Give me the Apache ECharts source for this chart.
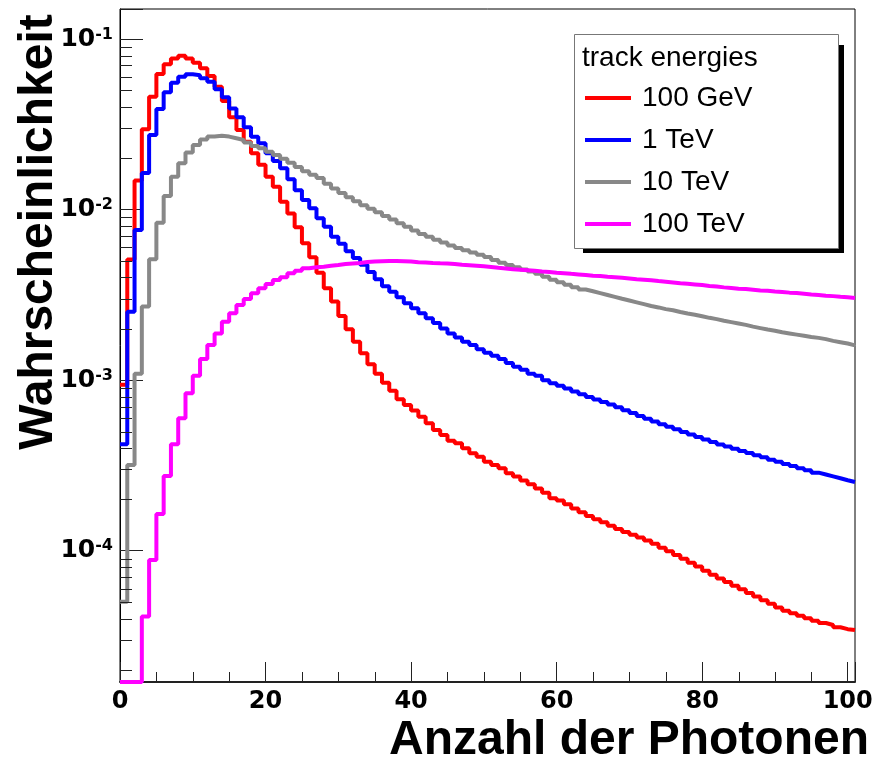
<!DOCTYPE html>
<html><head><meta charset="utf-8">
<script src="https://cdn.jsdelivr.net/npm/echarts@6/dist/echarts.min.js"></script>
<style>html,body{margin:0;padding:0;background:#fff}#c{width:886px;height:761px}</style>
</head><body><div id="c"></div>
<script>
// bin lower edges (Anzahl der Photonen)
const binEdges = [0,1,2,3,4,5,6,7,8,9,10,11,12,13,14,15,16,17,18,19,20,21,22,23,24,25,26,27,28,29,30,31,32,33,34,35,36,37,38,39,40,41,42,43,44,45,46,47,48,49,50,51,52,53,54,55,56,57,58,59,60,61,62,63,64,65,66,67,68,69,70,71,72,73,74,75,76,77,78,79,80,81,82,83,84,85,86,87,88,89,90,91,92,93,94,95,96,97,98,99,100];
const xUpper = 101;
const seriesNames = ['100 GeV', '1 TeV', '10 TeV', '100 TeV'];
const e100GeV = [9.4e-4,5.1e-3,0.0148,0.0296,0.0459,0.0624,0.0712,0.0770,0.0798,0.0770,
 0.0726,0.0673,0.0607,0.0525,0.0433,0.0348,0.0293,0.0250,0.0214,0.0183,
 0.0156,0.0136,0.0111,9.5e-3,7.87e-3,6.35e-3,5.25e-3,4.27e-3,3.46e-3,2.89e-3,
 2.38e-3,1.99e-3,1.68e-3,1.44e-3,1.24e-3,1.09e-3,9.67e-4,8.68e-4,7.73e-4,7.15e-4,
 6.63e-4,6.11e-4,5.59e-4,5.10e-4,4.77e-4,4.42e-4,4.27e-4,3.99e-4,3.73e-4,3.56e-4,
 3.33e-4,3.18e-4,3.05e-4,2.85e-4,2.72e-4,2.58e-4,2.45e-4,2.32e-4,2.19e-4,2.03e-4,
 1.97e-4,1.87e-4,1.77e-4,1.68e-4,1.60e-4,1.53e-4,1.47e-4,1.40e-4,1.34e-4,1.29e-4,
 1.24e-4,1.195e-4,1.15e-4,1.10e-4,1.04e-4,9.93e-5,9.45e-5,8.99e-5,8.51e-5,8.07e-5,
 7.64e-5,7.24e-5,6.88e-5,6.55e-5,6.24e-5,5.95e-5,5.66e-5,5.39e-5,5.13e-5,4.89e-5,
 4.65e-5,4.45e-5,4.30e-5,4.16e-5,4.02e-5,3.88e-5,3.77e-5,3.67e-5,3.56e-5,3.47e-5,
 3.43e-5];
const e1TeV = [4.21e-4,2.52e-3,7.59e-3,0.0164,0.0274,0.0389,0.0487,0.0555,0.0602,0.0621,
 0.0613,0.0588,0.0562,0.0507,0.0455,0.0392,0.0348,0.0304,0.0267,0.0245,
 0.0214,0.0193,0.0175,0.01505,0.0130,0.0114,0.0102,8.89e-3,7.94e-3,6.94e-3,
 6.30e-3,5.70e-3,5.20e-3,4.75e-3,4.30e-3,3.90e-3,3.55e-3,3.30e-3,3.06e-3,2.82e-3,
 2.64e-3,2.47e-3,2.31e-3,2.16e-3,2.01e-3,1.88e-3,1.78e-3,1.68e-3,1.61e-3,1.52e-3,
 1.45e-3,1.39e-3,1.33e-3,1.26e-3,1.20e-3,1.15e-3,1.09e-3,1.06e-3,1.00e-3,9.59e-4,
 9.29e-4,8.93e-4,8.58e-4,8.26e-4,7.97e-4,7.70e-4,7.44e-4,7.19e-4,6.94e-4,6.67e-4,
 6.42e-4,6.17e-4,5.94e-4,5.72e-4,5.52e-4,5.33e-4,5.15e-4,4.97e-4,4.80e-4,4.65e-4,
 4.49e-4,4.34e-4,4.20e-4,4.08e-4,3.96e-4,3.85e-4,3.74e-4,3.63e-4,3.53e-4,3.42e-4,
 3.32e-4,3.23e-4,3.14e-4,3.05e-4,2.96e-4,2.87e-4,2.80e-4,2.73e-4,2.66e-4,2.59e-4,
 2.53e-4];
const e10TeV = [5.03e-5,3.18e-4,1.09e-3,2.70e-3,5.11e-3,8.38e-3,0.0120,0.0156,0.0187,0.0216,
 0.0239,0.0258,0.0268,0.0271,0.0268,0.0262,0.0256,0.0247,0.0236,0.0229,
 0.0218,0.0209,0.0199,0.0188,0.0178,0.0168,0.0160,0.0153,0.0142,0.0133,
 0.0125,0.0118,0.0112,0.0106,0.0101,9.64e-3,9.17e-3,8.74e-3,8.32e-3,7.93e-3,
 7.55e-3,7.20e-3,6.93e-3,6.66e-3,6.41e-3,6.16e-3,5.95e-3,5.77e-3,5.60e-3,5.44e-3,
 5.27e-3,5.07e-3,4.88e-3,4.74e-3,4.60e-3,4.46e-3,4.33e-3,4.20e-3,4.04e-3,3.88e-3,
 3.75e-3,3.63e-3,3.51e-3,3.40e-3,3.32e-3,3.24e-3,3.16e-3,3.08e-3,3.00e-3,2.93e-3,
 2.86e-3,2.79e-3,2.72e-3,2.67e-3,2.61e-3,2.57e-3,2.51e-3,2.46e-3,2.42e-3,2.37e-3,
 2.32e-3,2.28e-3,2.23e-3,2.19e-3,2.15e-3,2.11e-3,2.06e-3,2.02e-3,1.98e-3,1.95e-3,
 1.91e-3,1.88e-3,1.85e-3,1.82e-3,1.79e-3,1.77e-3,1.74e-3,1.70e-3,1.67e-3,1.64e-3,
 1.60e-3];
const e100TeV = [1.7e-5,1.7e-5,1.7e-5,4.11e-5,8.83e-5,1.64e-4,2.74e-4,4.21e-4,5.98e-4,8.38e-4,
 1.06e-3,1.33e-3,1.61e-3,1.88e-3,2.20e-3,2.47e-3,2.76e-3,2.99e-3,3.23e-3,3.46e-3,
 3.66e-3,3.87e-3,4.01e-3,4.23e-3,4.38e-3,4.53e-3,4.59e-3,4.63e-3,4.69e-3,4.74e-3,
 4.80e-3,4.83e-3,4.86e-3,4.93e-3,4.96e-3,4.98e-3,4.99e-3,4.99e-3,4.98e-3,4.96e-3,
 4.92e-3,4.89e-3,4.86e-3,4.84e-3,4.83e-3,4.80e-3,4.75e-3,4.72e-3,4.69e-3,4.65e-3,
 4.61e-3,4.56e-3,4.52e-3,4.47e-3,4.44e-3,4.41e-3,4.38e-3,4.34e-3,4.31e-3,4.27e-3,
 4.24e-3,4.20e-3,4.17e-3,4.14e-3,4.10e-3,4.08e-3,4.04e-3,4.01e-3,3.98e-3,3.95e-3,
 3.91e-3,3.88e-3,3.85e-3,3.81e-3,3.78e-3,3.74e-3,3.70e-3,3.67e-3,3.64e-3,3.61e-3,
 3.57e-3,3.54e-3,3.50e-3,3.47e-3,3.44e-3,3.42e-3,3.39e-3,3.36e-3,3.34e-3,3.31e-3,
 3.29e-3,3.26e-3,3.24e-3,3.21e-3,3.18e-3,3.16e-3,3.13e-3,3.11e-3,3.08e-3,3.06e-3,
 3.03e-3];
const xTickLabels = [0, 20, 40, 60, 80, 100];
const xMinorTicks = [5,10,15,25,30,35,45,50,55,65,70,75,85,90,95];
const yMinorTicks = [2e-5,3e-5,4e-5,5e-5,6e-5,7e-5,8e-5,9e-5,
 2e-4,3e-4,4e-4,5e-4,6e-4,7e-4,8e-4,9e-4,
 2e-3,3e-3,4e-3,5e-3,6e-3,7e-3,8e-3,9e-3,
 2e-2,3e-2,4e-2,5e-2,6e-2,7e-2,8e-2,9e-2];
const yMin = 1.7e-5, yMax = 0.15;
const colors = ['#ff0000', '#0000ff', '#888888', '#ff00ff'];
const allVals = [e100GeV, e1TeV, e10TeV, e100TeV];

const chart = echarts.init(document.getElementById('c'), null, {renderer: 'canvas'});

function histData(vals) {
  const d = binEdges.map((b, i) => [b, vals[i]]);
  d.push([xUpper, vals[vals.length - 1]]);
  return d;
}

const lineSeries = seriesNames.map((n, k) => ({
  name: n, type: 'line', step: 'end', data: histData(allVals[k]),
  showSymbol: false, symbol: 'none', color: colors[k],
  lineStyle: {color: colors[k], width: 4}, animation: false, clip: true, z: 2 + k * 0.01
}));

const option = {
  animation: false,
  backgroundColor: '#fff',
  grid: {left: 120, top: 9, width: 735, height: 673, show: true, borderColor: '#000', borderWidth: 1, backgroundColor: 'transparent'},
  xAxis: {
    type: 'value', min: 0, max: xUpper, interval: 20,
    splitLine: {show: false},
    axisLine: {show: true, lineStyle: {color: '#222', width: 2}},
    axisTick: {show: true, inside: true, length: 20, lineStyle: {color: '#222', width: 1}},
    axisLabel: {
      margin: 8, color: '#000', fontFamily: 'DejaVu Sans', fontWeight: 'bold', fontSize: 24,
      formatter: v => (xTickLabels.indexOf(v) >= 0 ? String(v) : '')
    }
  },
  yAxis: {
    type: 'log', logBase: 10, min: yMin, max: yMax,
    splitLine: {show: false},
    axisLine: {show: true, lineStyle: {color: '#000', width: 1}},
    axisTick: {show: true, inside: true, length: 23, lineStyle: {color: '#222', width: 1}},
    axisLabel: {
      margin: 7, color: '#000',
      formatter: v => {
        const l = Math.log10(v), e = Math.round(l);
        if (Math.abs(l - e) > 1e-3) return '';
        return '{b|10}{s|' + e + '}';
      },
      rich: {
        b: {fontFamily: 'DejaVu Sans', fontWeight: 'bold', fontSize: 25, color: '#000'},
        s: {fontFamily: 'DejaVu Sans', fontWeight: 'bold', fontSize: 16, color: '#000', verticalAlign: 'top'}
      }
    }
  },
  legend: {
    orient: 'vertical', left: 585, top: 83, padding: 0, itemGap: 12,
    itemWidth: 46, itemHeight: 4, icon: 'rect', selectedMode: false, z: 6,
    textStyle: {fontFamily: 'Liberation Sans', fontSize: 28, color: '#000', lineHeight: 30, padding: [0, 0, 0, 6]},
    data: seriesNames
  },
  graphic: [
    {type: 'rect', z: 4, shape: {x: 583, y: 45, width: 261, height: 208}, style: {fill: '#000'}},
    {type: 'rect', z: 5, shape: {x: 574.5, y: 34.5, width: 264, height: 214}, style: {fill: '#fff', stroke: '#777', lineWidth: 1}},
    {type: 'text', z: 6, x: 582, y: 58, style: {text: 'track energies', fontFamily: 'Liberation Sans', fontSize: 28, fill: '#000', align: 'left', verticalAlign: 'middle'}},
    {type: 'text', z: 6, x: 39, y: 232, rotation: Math.PI / 2, style: {text: 'Wahrscheinlichkeit', fontFamily: 'Liberation Sans', fontWeight: 'bold', fontSize: 48, fill: '#000', align: 'center', verticalAlign: 'middle'}},
    {type: 'text', z: 6, x: 869, y: 741, style: {text: 'Anzahl der Photonen', fontFamily: 'Liberation Sans', fontWeight: 'bold', fontSize: 48, fill: '#000', align: 'right', verticalAlign: 'middle'}}
  ],
  series: lineSeries.concat([
    {
      type: 'custom', silent: true, z: 3, clip: false, animation: false,
      data: yMinorTicks.map(v => [0, v]),
      renderItem: (params, api) => {
        const p = api.coord([0, api.value(1)]);
        const y = Math.round(p[1]) + 0.5;
        return {type: 'line', shape: {x1: p[0], y1: y, x2: p[0] + 12, y2: y}, style: {stroke: '#222', lineWidth: 1}};
      }
    },
    {
      type: 'custom', silent: true, z: 3, clip: false, animation: false,
      data: xMinorTicks.map(v => [v, yMin]),
      renderItem: (params, api) => {
        const p = api.coord([api.value(0), yMin]);
        const x = Math.round(p[0]) + 0.5;
        return {type: 'line', shape: {x1: x, y1: p[1], x2: x, y2: p[1] - 10}, style: {stroke: '#222', lineWidth: 1}};
      }
    }
  ])
};
chart.setOption(option);
</script></body></html>
